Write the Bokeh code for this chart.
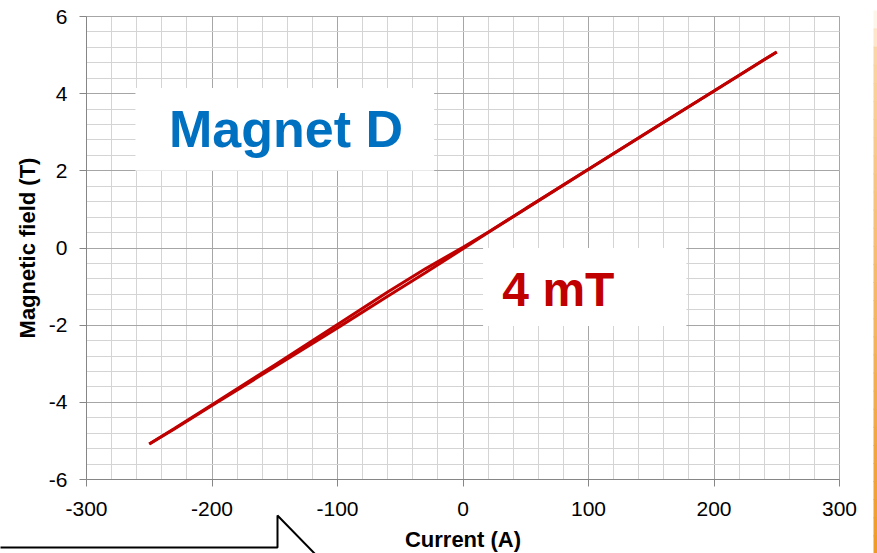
from bokeh.plotting import figure
from bokeh.models import (Range1d, SingleIntervalTicker, BoxAnnotation, Label,
                          PolyAnnotation, PrintfTickFormatter, Grid)
from bokeh.embed import file_html
from bokeh.resources import INLINE

# ---- data ----
current_up = [-250, -230, -200, -150, -100, -60, -30, 0, 20, 50, 100, 150, 200, 230, 250]
field_up = [-5.08, -4.69, -4.08, -3.08, -2.07, -1.25, -0.64, -0.02, 0.40, 1.02, 2.04, 3.06, 4.07, 4.68, 5.08]
current_down = [250, 230, 200, 150, 100, 50, 20, 0, -30, -60, -100, -150, -200, -230, -250]
field_down = [5.08, 4.68, 4.07, 3.06, 2.04, 1.02, 0.41, 0.02, -0.54, -1.14, -1.98, -3.03, -4.06, -4.68, -5.08]

x_ticks = [-300, -200, -100, 0, 100, 200, 300]
y_ticks = [-6, -4, -2, 0, 2, 4, 6]

title_text = "Magnet D"
note_text = "4 mT"
x_label = "Current (A)"
y_label = "Magnetic field (T)"

FONT = "Liberation Sans"

# page geometry: plot area inside the 877x553 canvas
W, H = 877, 553
L, R, T, B = 86, 839, 16, 479
XMIN, XMAX = x_ticks[0], x_ticks[-1]
YMIN, YMAX = y_ticks[0], y_ticks[-1]
kx = (XMAX - XMIN) / (R - L)
ky = (YMAX - YMIN) / (B - T)

p = figure(width=W, height=H, output_backend="svg", toolbar_location=None,
           title=None,
           x_range=Range1d(XMIN - L * kx, XMAX + (W - R) * kx),
           y_range=Range1d(YMIN - (H - B) * ky, YMAX + T * ky),
           min_border=0)
p.background_fill_color = "white"
p.border_fill_color = "white"
p.outline_line_color = None

xt = SingleIntervalTicker(interval=100, num_minor_ticks=5)
yt = SingleIntervalTicker(interval=2, num_minor_ticks=5)
p.xaxis.ticker = xt
p.yaxis.ticker = yt
p.xgrid.ticker = xt
p.ygrid.ticker = yt
p.xaxis.formatter = PrintfTickFormatter(format="%d")
p.yaxis.formatter = PrintfTickFormatter(format="%d")

p.xaxis.fixed_location = YMIN
p.yaxis.fixed_location = XMIN
p.xaxis.bounds = (XMIN, XMAX)
p.yaxis.bounds = (YMIN, YMAX)

has_cross = "cross_bounds" in Grid.properties()
p.xgrid.bounds = (XMIN, XMAX)
p.ygrid.bounds = (YMIN, YMAX)
if has_cross:
    p.xgrid.cross_bounds = (YMIN, YMAX)
    p.ygrid.cross_bounds = (XMIN, XMAX)

for g in (p.xgrid, p.ygrid):
    g.grid_line_color = "#A6A6A6"
    g.grid_line_width = 1
    g.minor_grid_line_color = "#D4D4D4"
    g.minor_grid_line_width = 1

if not has_cross:
    for kw in (dict(right=XMIN), dict(left=XMAX), dict(top=YMIN), dict(bottom=YMAX)):
        p.add_layout(BoxAnnotation(fill_color="white", fill_alpha=1, line_color=None,
                                   level="underlay", **kw))

for ax in (p.xaxis, p.yaxis):
    ax.axis_line_color = "#868686"
    ax.major_tick_line_color = "#868686"
    ax.major_tick_out = 7
    ax.major_tick_in = 0
    ax.minor_tick_line_color = None
    ax.major_label_text_font = FONT
    ax.major_label_text_font_size = "21px"
    ax.major_label_text_color = "black"
    ax.axis_label_text_font = FONT
    ax.axis_label_text_font_size = "22px"
    ax.axis_label_text_font_style = "bold"
    ax.axis_label_text_color = "black"

p.xaxis.axis_label = x_label
p.yaxis.axis_label = y_label
p.xaxis.major_label_standoff = 15
p.yaxis.major_label_standoff = 12
p.xaxis.axis_label_standoff = 8
p.yaxis.axis_label_standoff = 6

# text boxes
p.add_layout(BoxAnnotation(left=-261, right=-23, bottom=2.0, top=4.15,
                           fill_color="white", fill_alpha=1, line_color=None))
p.add_layout(BoxAnnotation(left=16, right=178, bottom=-2.02, top=0.0,
                           fill_color="white", fill_alpha=1, line_color=None))

# data
p.line(current_up, field_up, line_color="#C00000", line_width=3)
p.line(current_down, field_down, line_color="#C00000", line_width=3)

p.add_layout(Label(x=-141, y=3.08, text=title_text, text_align="center",
                   text_baseline="alphabetic", text_font=FONT,
                   text_font_size="52px", text_font_style="bold",
                   text_color="#0070C0"))
p.add_layout(Label(x=76, y=-1.08, text=note_text, text_align="center",
                   text_baseline="alphabetic", text_font=FONT,
                   text_font_size="48px", text_font_style="bold",
                   text_color="#C00000"))

# callout outline at bottom-left (page decoration, canvas pixels)
p.add_layout(PolyAnnotation(xs=[-4, 277, 277, 318, -4], ys=[547, 547, 515, 557, 557],
                            xs_units="canvas", ys_units="canvas",
                            fill_alpha=0, line_color="black", line_alpha=1.0,
                            line_width=2))

# orange slide edge at right (page decoration, gradient in strips)
n_seg = 30
top_c = (252, 215, 170)
bot_c = (240, 155, 40)
y0, y1 = 10, 553
for i in range(n_seg):
    t = i / (n_seg - 1)
    c = tuple(int(round(top_c[k] + (bot_c[k] - top_c[k]) * t)) for k in range(3))
    a = min(1.0, 0.25 + i * 0.35)
    ya = y0 + (y1 - y0) * i / n_seg
    yb = y0 + (y1 - y0) * (i + 1) / n_seg
    p.add_layout(BoxAnnotation(left=873, right=878, top=ya, bottom=yb + 1,
                               left_units="canvas", right_units="canvas",
                               top_units="canvas", bottom_units="canvas",
                               fill_color="#%02x%02x%02x" % c, fill_alpha=a,
                               line_color=None))

open("out.html", "w").write(file_html(p, INLINE))
